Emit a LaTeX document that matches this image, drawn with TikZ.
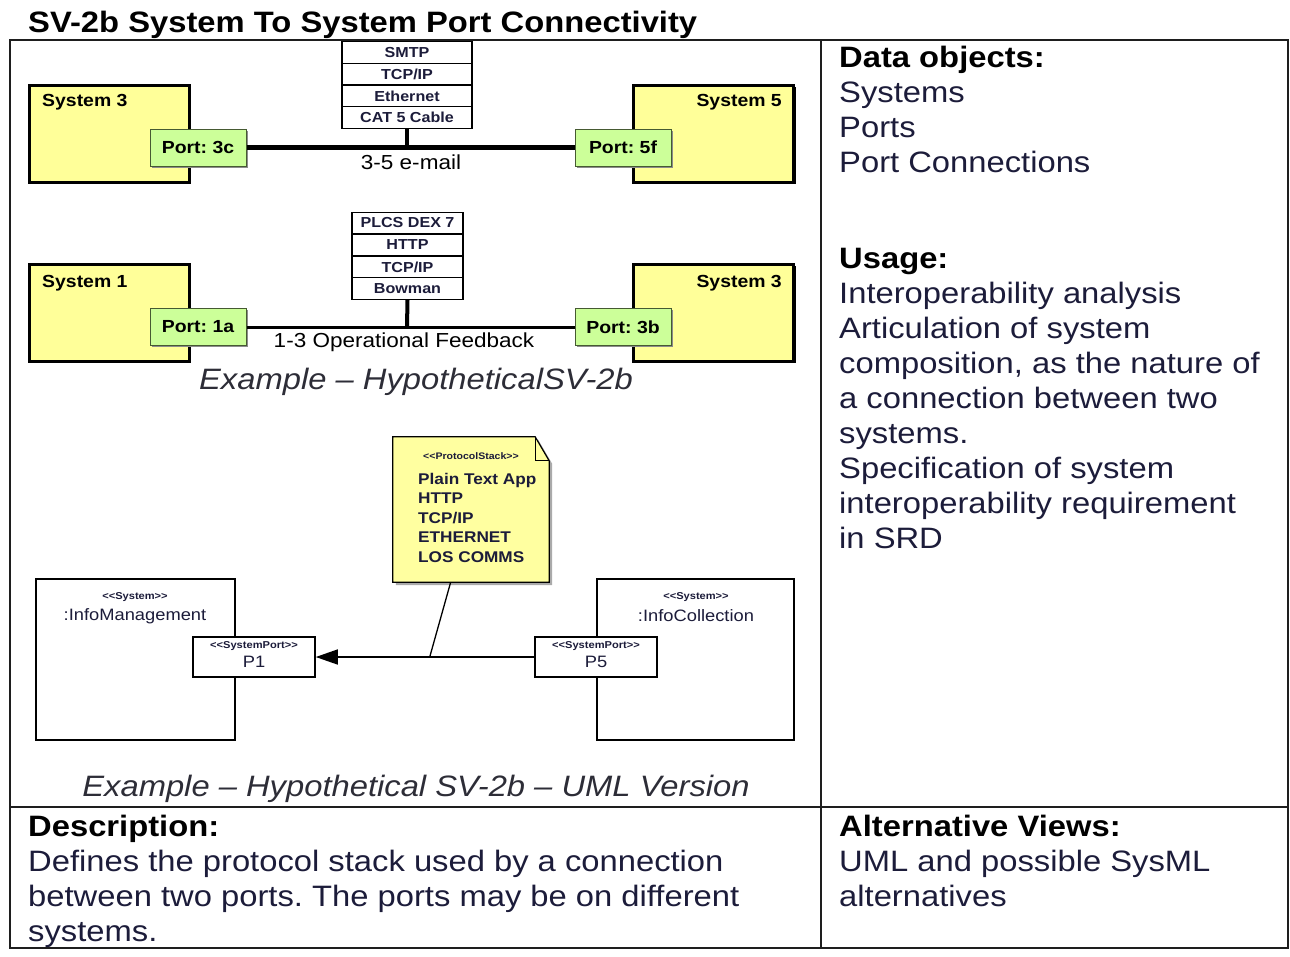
\documentclass[tikz,border=0pt]{standalone}
\usepackage{fontspec}
\setmainfont{Liberation Sans}[FakeStretch=1.11]
\usetikzlibrary{arrows.meta,shadows}
\frenchspacing

\definecolor{sysyellow}{RGB}{255,255,153}
\definecolor{portgreen}{RGB}{204,255,153}
\definecolor{portedge}{RGB}{70,90,50}
\definecolor{noteyellow}{RGB}{255,255,160}
\definecolor{noteshadow}{RGB}{170,170,170}
\definecolor{bodytext}{RGB}{28,28,58}
\definecolor{captext}{RGB}{45,45,55}
\definecolor{framecol}{RGB}{30,30,30}

\newcommand\pxfont[1]{\fontsize{#1}{#1}\selectfont}
\newcommand\pxfontb[2]{\fontsize{#1}{#2}\selectfont}
\newcommand\stereo[1]{<\kern0pt<#1>\kern0pt>}

\begin{document}
\begin{tikzpicture}[x=1pt,y=-1pt,
  sysbox/.style={draw=black, line width=3pt, fill=sysyellow, inner sep=0pt,
    minimum width=160pt, minimum height=97pt,
    drop shadow={shadow xshift=2pt, shadow yshift=-2pt, fill=black, opacity=1}},
  syslabel/.style={font=\bfseries\pxfont{17.5}, text=black, inner sep=0pt},
  portbox/.style={draw=portedge, line width=1pt, fill=portgreen, inner sep=0pt,
    minimum width=96pt, minimum height=37pt, font=\bfseries\pxfont{17.5}, text=black,
    drop shadow={shadow xshift=1.5pt, shadow yshift=-1.5pt, fill=black!45, opacity=1}},
  stackrow/.style={draw=black, line width=1.2pt, fill=white, inner sep=0pt,
    minimum height=21.6pt, font=\bfseries\pxfont{14.5}, text=bodytext},
  linklabel/.style={font=\pxfont{20.3}, text=black, inner sep=0pt},
  caption/.style={font=\itshape\pxfont{29.5}, text=captext, inner sep=0pt},
  textblock/.style={font=\pxfontb{29.5}{35}, text=bodytext, align=left,
    inner sep=0pt, anchor=north west},
  umlbox/.style={draw=black, line width=1.5pt, fill=white, inner sep=0pt},
  umlport/.style={draw=black, line width=1.5pt, fill=white, inner sep=0pt,
    minimum width=122pt, minimum height=40pt},
  stereotype/.style={font=\bfseries\pxfont{10}, text=bodytext, inner sep=0pt},
  umlname/.style={font=\pxfont{16.5}, text=bodytext, inner sep=0pt}
]
\useasboundingbox (0,0) rectangle (1290,956);

% ---------- title and table frame ----------
\node[anchor=base west, font=\bfseries\pxfont{29.5}, text=black, inner sep=0pt]
  (title) at (28,32) {SV-2b System To System Port Connectivity};
\draw[framecol, line width=2pt] (10,40) rectangle (1288,948);
\draw[framecol, line width=2pt] (821,40) -- (821,948);
\draw[framecol, line width=2pt] (10,807) -- (1288,807);

% ---------- first example: System 3 to System 5 ----------
\node[sysbox] (sysA) at (109,133.5) {};
\node[syslabel, anchor=west] (sysAtxt) at (42,102) {System 3};
\node[sysbox] (sysB) at (713.5,133.5) {};
\node[syslabel, anchor=east] (sysBtxt) at (782,102) {System 5};
\node[portbox] (p3c) at (198,147.5) {Port: 3c};
\node[portbox] (p5f) at (623,147.5) {Port: 5f};

\node[stackrow, minimum width=130pt] (smtp) at (407,52.5) {SMTP};
\node[stackrow, minimum width=130pt] (tcpA) at (407,74) {TCP/IP};
\node[stackrow, minimum width=130pt] (eth) at (407,96) {Ethernet};
\node[stackrow, minimum width=130pt] (cat5) at (407,117.5) {CAT 5 Cable};

\coordinate (jA) at (407,148);
\draw[line width=5pt] (p3c.east) -- (p5f.west);
\draw[line width=4pt] (cat5.south) -- (jA);
\node[linklabel] (emailtxt) at (411,162) {3-5 e-mail};

% ---------- second example: System 1 to System 3 ----------
\node[sysbox] (sysC) at (109,312.5) {};
\node[syslabel, anchor=west] (sysCtxt) at (42,283) {System 1};
\node[sysbox] (sysD) at (713.5,312.5) {};
\node[syslabel, anchor=east] (sysDtxt) at (782,283) {System 3};
\node[portbox] (p1a) at (198,327) {Port: 1a};
\node[portbox] (p3b) at (623,327) {Port: 3b};

\node[stackrow, minimum width=111pt] (plcs) at (407.5,223) {PLCS DEX 7};
\node[stackrow, minimum width=111pt] (http) at (407.5,245) {HTTP};
\node[stackrow, minimum width=111pt] (tcpB) at (407.5,267) {TCP/IP};
\node[stackrow, minimum width=111pt] (bow) at (407.5,288.5) {Bowman};

\coordinate (jB) at (407,327);
\draw[line width=3pt] (p1a.east) -- (p3b.west);
\draw[line width=4pt] (bow.south) -- (jB);
\node[linklabel] (feedtxt) at (404,342) {1-3 Operational Feedback};

\node[caption] (capA) at (416,382) {Example – HypotheticalSV-2b};

% ---------- UML version ----------
\node[umlbox, minimum width=199pt, minimum height=161pt] (infomgmt) at (135.5,659.5) {};
\node[stereotype] (imst) at (135,597) {\stereo{System}};
\node[umlname] (imname) at (135,616) {:InfoManagement};

\node[umlbox, minimum width=197pt, minimum height=161pt] (infocoll) at (695.5,659.5) {};
\node[stereotype] (icst) at (696,597) {\stereo{System}};
\node[umlname] (icname) at (696,616) {:InfoCollection};

\node[umlport] (p1) at (254,657) {};
\node[stereotype] (p1st) at (254,646) {\stereo{SystemPort}};
\node[umlname] (p1name) at (254,662) {P1};

\node[umlport] (p5) at (596,657) {};
\node[stereotype] (p5st) at (596,646) {\stereo{SystemPort}};
\node[umlname] (p5name) at (596,662) {P5};

% protocol stack note with folded corner
\node[minimum width=156pt, minimum height=145pt, inner sep=0pt] (note) at (471,509.5) {};
\fill[noteshadow] ([xshift=3pt,yshift=-3pt]note.north west)
  -- ([xshift=-11pt,yshift=-3pt]note.north east)
  -- ([xshift=3pt,yshift=-27pt]note.north east)
  -- ([xshift=3pt,yshift=-3pt]note.south east)
  -- ([xshift=3pt,yshift=-3pt]note.south west) -- cycle;
\draw[fill=noteyellow, draw=black, line width=1.2pt] (note.north west)
  -- ([xshift=-14pt]note.north east)
  -- ([yshift=-24pt]note.north east)
  -- (note.south east) -- (note.south west) -- cycle;
\draw[line width=1pt] ([xshift=-14pt]note.north east) |- ([yshift=-24pt]note.north east);
\node[stereotype, font=\bfseries\pxfont{9.5}] (notest) at (471,456) {\stereo{ProtocolStack}};
\node[font=\bfseries\pxfontb{15.5}{19.5}, text=bodytext, align=left, inner sep=0pt,
  anchor=north west] (notetext) at (418,470.3)
  {\strut Plain Text App\\HTTP\\TCP/IP\\ETHERNET\\LOS COMMS};

\coordinate (nj) at (430,656);
\draw[line width=1.3pt] (note) -- (nj);
\draw[line width=1.5pt, -{Triangle[length=22pt,width=15pt]}] (p5.west) -- (p1.east);

\node[caption] (capB) at (416,789) {Example – Hypothetical SV-2b – UML Version};

% ---------- text cells ----------
\node[textblock] (dataobj) at (839,42.5)
  {\strut{\color{black}\bfseries Data objects:}\\Systems\\Ports\\Port Connections};
\node[textblock] (usage) at (839,243.5)
  {\strut{\color{black}\bfseries Usage:}\\Interoperability analysis\\Articulation of system\\composition, as the nature of\\a connection between two\\systems.\\Specification of system\\interoperability requirement\\in SRD};
\node[textblock] (descr) at (28,811.5)
  {\strut{\color{black}\bfseries Description:}\\Defines the protocol stack used by a connection\\between two ports. The ports may be on different\\systems.};
\node[textblock] (altviews) at (839,811.5)
  {\strut{\color{black}\bfseries Alternative Views:}\\UML and possible SysML\\alternatives};
\end{tikzpicture}
\end{document}
